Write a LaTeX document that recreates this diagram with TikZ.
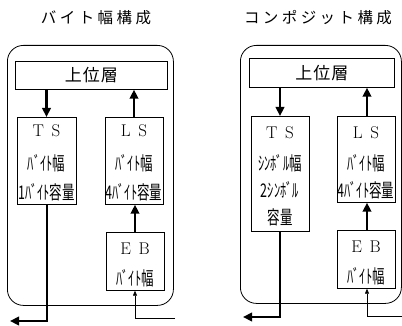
\documentclass[tikz,border=0pt]{standalone}
\usepackage{fontspec}
\newfontfamily\jp{Noto Sans CJK JP}
\newfontfamily\jptitle[LetterSpace=22]{Noto Sans CJK JP}
\newfontfamily\jphead[LetterSpace=6]{Noto Sans CJK JP}
\usetikzlibrary{arrows.meta}
\newcommand{\cond}[1]{\scalebox{0.86}[1.3]{#1}}
\begin{document}
\begin{tikzpicture}[x=1pt,y=-1pt,
  title/.style={font=\jptitle\fontsize{15.5}{17}\selectfont, inner sep=0},
  frame/.style={draw, line width=0.8pt, rounded corners=16pt},
  box/.style={draw, line width=0.7pt, anchor=north west, inner sep=0, fill=white},
  head/.style={font=\jphead\fontsize{17}{19}\selectfont, inner sep=0},
  code/.style={font=\fontsize{17}{19}\selectfont, inner sep=0},
  txt/.style={font=\jp\fontsize{14.5}{16}\selectfont, inner sep=0},
  thick arrow/.style={line width=2.4pt, -{Triangle[length=9pt,width=8.5pt]}},
  thin arrow/.style={line width=0.6pt, -{Triangle[length=5pt,width=4pt]}}
]
\useasboundingbox (0,0) rectangle (402,326);
% ===== left: byte-width configuration =====
\node[title] (t1) at (96,18) {バイト幅構成};
\node[frame, minimum width=166pt, minimum height=260pt, anchor=north west] (f1) at (7,45) {};
\node[box, minimum width=152pt, minimum height=28pt] (u1) at (15,61) {};
\node[head] (u1t) at (u1.center) {上位層};
\node[box, minimum width=59pt, minimum height=87pt] (ts1) at (17,117) {};
\node[box, minimum width=58pt, minimum height=87pt] (ls1) at (105,117) {};
\node[box, minimum width=58pt, minimum height=58pt] (eb1) at (106,232) {};
\node[code] (ts1a) at (46.5,131) {T\hspace{0.45em}S};
\node[txt] (ts1b) at (46.5,163) {\cond{ﾊﾞｲﾄ幅}};
\node[txt] (ts1c) at (46.5,192) {\cond{1ﾊﾞｲﾄ容量}};
\node[code] (ls1a) at (134,131) {L\hspace{0.45em}S};
\node[txt] (ls1b) at (134,163) {\cond{ﾊﾞｲﾄ幅}};
\node[txt] (ls1c) at (134,192) {\cond{4ﾊﾞｲﾄ容量}};
\node[code] (eb1a) at (135,249) {E\hspace{0.45em}B};
\node[txt] (eb1b) at (135,278) {\cond{ﾊﾞｲﾄ幅}};
\coordinate (o1a) at (47,321);
\coordinate (o1b) at (10,321);
\coordinate (i1a) at (175,318);
\coordinate (i1b) at (135,318);
\draw[thick arrow] (u1.south -| ts1a) -- (ts1.north -| ts1a);
\draw[thick arrow] (ls1.north -| ls1a) -- (u1.south -| ls1a);
\draw[thick arrow] (eb1.north -| eb1a) -- (ls1.south -| eb1a);
\draw[thick arrow] (ts1.south -| o1a) -- (o1a) -- (o1b);
\draw[thin arrow] (i1a) -- (i1b) -- (eb1.south -| i1b);
% ===== right: composite configuration =====
\node[title] (t2) at (318,18) {コンポジット構成};
\node[frame, minimum width=161pt, minimum height=258pt, anchor=north west] (f2) at (240,45) {};
\node[box, minimum width=145pt, minimum height=29pt] (u2) at (249,58) {};
\node[head] (u2t) at (u2.center) {上位層};
\node[box, minimum width=58pt, minimum height=115pt] (ts2) at (251,116) {};
\node[box, minimum width=58pt, minimum height=86pt] (ls2) at (337,116) {};
\node[box, minimum width=58pt, minimum height=58pt] (eb2) at (337,230) {};
\node[code] (ts2a) at (280,133) {T\hspace{0.45em}S};
\node[txt] (ts2b) at (280,163) {\cond{ｼﾝﾎﾞﾙ幅}};
\node[txt] (ts2c) at (280,190) {\cond{2ｼﾝﾎﾞﾙ}};
\node[txt] (ts2d) at (280,217) {\cond{容量}};
\node[code] (ls2a) at (366,133) {L\hspace{0.45em}S};
\node[txt] (ls2b) at (366,163) {\cond{ﾊﾞｲﾄ幅}};
\node[txt] (ls2c) at (366,190) {\cond{4ﾊﾞｲﾄ容量}};
\node[code] (eb2a) at (366,247) {E\hspace{0.45em}B};
\node[txt] (eb2b) at (366,276) {\cond{ﾊﾞｲﾄ幅}};
\coordinate (o2a) at (280,317);
\coordinate (o2b) at (243,317);
\coordinate (i2a) at (402,316);
\coordinate (i2b) at (367,316);
\draw[thick arrow] (u2.south -| ts2a) -- (ts2.north -| ts2a);
\draw[thick arrow] (ls2.north -| i2b) -- (u2.south -| i2b);
\draw[thick arrow] (eb2.north -| i2b) -- (ls2.south -| i2b);
\draw[thick arrow] (ts2.south -| o2a) -- (o2a) -- (o2b);
\draw[thin arrow] (i2a) -- (i2b) -- (eb2.south -| i2b);
\end{tikzpicture}
\end{document}
